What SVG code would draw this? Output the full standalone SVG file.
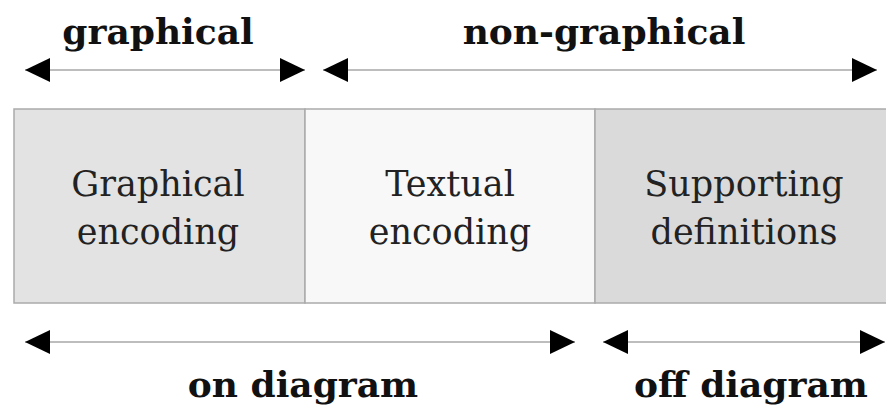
<svg xmlns="http://www.w3.org/2000/svg" width="886" height="411" viewBox="0 0 886 411">
  <style>
    .box { stroke: #ababab; stroke-width: 1.5; }
    .inner { font-family: "DejaVu Serif", "Liberation Serif", serif; font-size: 35px; fill: #222; text-anchor: middle; }
    .head { font-family: "DejaVu Serif", "Liberation Serif", serif; font-size: 36px; font-weight: bold; fill: #111; text-anchor: middle; }
    .span { stroke: #bdbdbd; stroke-width: 2; fill: none; marker-start: url(#tail); marker-end: url(#tip); }
  </style>
  <defs>
    <marker id="tip" viewBox="0 0 25 24" refX="25" refY="12" markerWidth="25" markerHeight="24" markerUnits="userSpaceOnUse" orient="auto">
      <path d="M0,0 L25,12 L0,24 Z" fill="#000"/>
    </marker>
    <marker id="tail" viewBox="0 0 25 24" refX="0" refY="12" markerWidth="25" markerHeight="24" markerUnits="userSpaceOnUse" orient="auto">
      <path d="M25,0 L0,12 L25,24 Z" fill="#000"/>
    </marker>
  </defs>

  <g id="graphical-encoding">
    <rect class="box" x="14" y="109" width="291" height="194" fill="#e3e3e3"/>
    <text class="inner" x="158" y="196">Graphical</text>
    <text class="inner" x="158" y="244">encoding</text>
  </g>
  <g id="textual-encoding">
    <rect class="box" x="305" y="109" width="290" height="194" fill="#f8f8f8"/>
    <text class="inner" x="450" y="196">Textual</text>
    <text class="inner" x="450" y="244">encoding</text>
  </g>
  <g id="supporting-definitions">
    <rect class="box" x="595" y="109" width="300" height="194" fill="#dadada"/>
    <text class="inner" x="744" y="196">Supporting</text>
    <text class="inner" x="744" y="244">definitions</text>
  </g>

  <g id="connectors">
    <line class="span" x1="25" y1="70" x2="305" y2="70"/>
    <line class="span" x1="323" y1="70" x2="877" y2="70"/>
    <line class="span" x1="25" y1="342" x2="575" y2="342"/>
    <line class="span" x1="603" y1="342" x2="885" y2="342"/>
  </g>

  <g id="labels">
    <text class="head" x="158" y="44">graphical</text>
    <text class="head" x="604" y="44">non-graphical</text>
    <text class="head" x="303" y="397">on diagram</text>
    <text class="head" x="751" y="397">off diagram</text>
  </g>
</svg>
